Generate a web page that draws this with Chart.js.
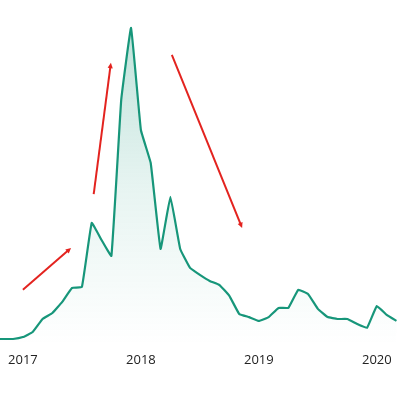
<!DOCTYPE html>
<html>
<head>
<meta charset="utf-8">
<script src="https://cdn.jsdelivr.net/npm/chart.js@4"></script>
<style>
  html, body { margin: 0; padding: 0; background: #fff; }
  #wrap { width: 397px; height: 412px; position: relative; }
</style>
</head>
<body>
<div id="wrap"><canvas id="trendChart"></canvas></div>
<script>
// month index: 0 = Jan 2017
const months = [-3, -2, -1, 0, 1, 2, 3, 4, 5, 6, 7, 8, 9, 10, 11, 12, 13, 14, 15, 16, 17, 18, 19, 20,
  21, 22, 23, 24, 25, 26, 27, 28, 29, 30, 31, 32, 33, 34, 35, 36, 37, 38];
const values = [1.9, 1.9, 1.9, 2.5, 4.1, 8.2, 10.1, 13.6, 18.0, 18.3, 38.5, 33.1, 28.1, 77.3, 100, 67.8,
  57.4, 30.3, 46.7, 30.3, 24.3, 22.1, 20.2, 18.9, 15.5, 9.8, 8.8, 7.6, 8.8, 11.7, 11.7, 17.4, 16.1,
  11.4, 8.8, 8.2, 8.2, 6.6, 5.4, 12.3, 9.5, 7.6];
const tickMonths = [0, 12, 24, 36];
const tickYears = ['2017', '2018', '2019', '2020'];

// trend arrows, in (month, value)
const arrows = [
  { from: [0.0, 17.4], to: [4.9, 30.6] },
  { from: [7.2, 47.6], to: [8.95, 89.0] },
  { from: [15.15, 91.5], to: [22.3, 36.9] }
];

const points = months.map((m, i) => ({ x: m, y: values[i] }));

// red arrows drawn on top of the chart
const arrowPlugin = {
    id: 'arrows',
    afterDatasetsDraw(chart) {
        const c = chart.ctx;
        const xs = chart.scales.x, ys = chart.scales.y;
        c.save();
        c.strokeStyle = '#e3231f';
        c.fillStyle = '#e3231f';
        c.lineWidth = 2;
        arrows.forEach(a => {
            const x1 = xs.getPixelForValue(a.from[0]), y1 = ys.getPixelForValue(a.from[1]);
            const x2 = xs.getPixelForValue(a.to[0]), y2 = ys.getPixelForValue(a.to[1]);
            const ang = Math.atan2(y2 - y1, x2 - x1);
            const head = 6;
            c.beginPath();
            c.moveTo(x1, y1);
            c.lineTo(x2 - Math.cos(ang) * head * 0.6, y2 - Math.sin(ang) * head * 0.6);
            c.stroke();
            c.beginPath();
            c.moveTo(x2, y2);
            c.lineTo(x2 - head * Math.cos(ang - 0.45), y2 - head * Math.sin(ang - 0.45));
            c.lineTo(x2 - head * Math.cos(ang + 0.45), y2 - head * Math.sin(ang + 0.45));
            c.closePath();
            c.fill();
        });
        c.restore();
    }
};

const ctx = document.getElementById('trendChart');
new Chart(ctx, {
    type: 'line',
    data: {
        datasets: [{
            data: points,
            borderColor: '#17967a',
            borderWidth: 2.2,
            pointRadius: 0,
            tension: 0.08,
            fill: 'origin',
            backgroundColor: (context) => {
                const area = context.chart.chartArea;
                if (!area) return 'rgba(23,150,122,0.1)';
                const g = context.chart.ctx.createLinearGradient(0, area.top, 0, area.bottom);
                g.addColorStop(0, 'rgba(23,150,122,0.3)');
                g.addColorStop(0.55, 'rgba(23,150,122,0.1)');
                g.addColorStop(1, 'rgba(23,150,122,0.0)');
                return g;
            }
        }]
    },
    options: {
        responsive: true,
        maintainAspectRatio: false,
        animation: false,
        layout: { padding: 0, autoPadding: false },
        plugins: { legend: { display: false }, tooltip: { enabled: false } },
        scales: {
            x: {
                type: 'linear',
                min: -2.33,
                max: 38.05,
                grid: { display: false, drawTicks: false },
                border: { display: false },
                afterBuildTicks: (axis) => { axis.ticks = tickMonths.map(v => ({ value: v })); },
                afterFit: (axis) => { axis.height = 67; },
                ticks: {
                    padding: 0,
                    maxRotation: 0,
                    autoSkip: false,
                    color: '#222',
                    font: { family: 'Open Sans', size: 13, lineHeight: 2.4 },
                    callback: (v) => tickYears[tickMonths.indexOf(v)]
                }
            },
            y: {
                display: false,
                min: 0,
                max: 108.8
            }
        }
    },
    plugins: [arrowPlugin]
});
</script>
</body>
</html>
